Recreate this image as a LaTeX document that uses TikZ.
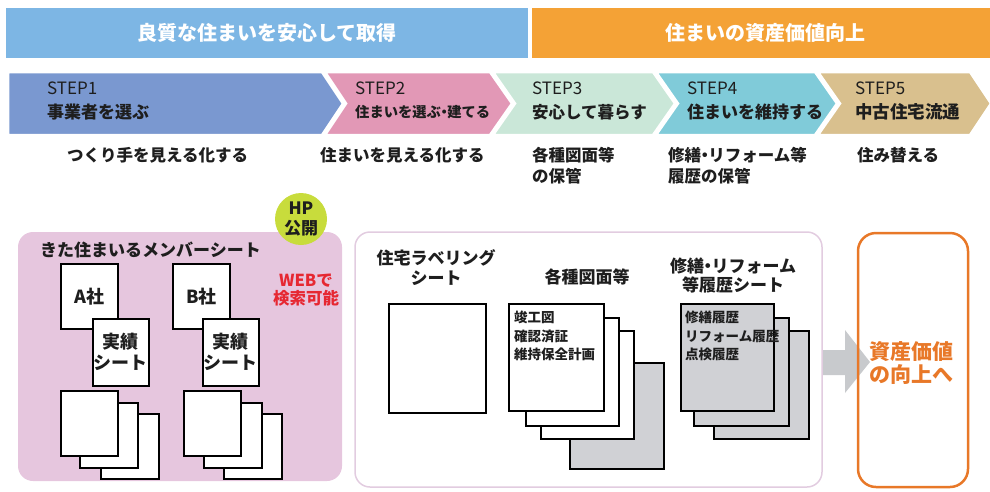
\documentclass[tikz,border=0pt]{standalone}
\usepackage{fontspec}
\setmainfont{Noto Sans CJK JP}
\definecolor{barblue}{RGB}{125,182,228}
\definecolor{barorange}{RGB}{244,162,54}
\definecolor{sA}{RGB}{122,152,208}
\definecolor{sB}{RGB}{226,152,182}
\definecolor{sC}{RGB}{202,231,216}
\definecolor{sD}{RGB}{128,203,217}
\definecolor{sE}{RGB}{217,192,142}
\definecolor{lpink}{RGB}{230,198,222}
\definecolor{mborder}{RGB}{226,204,224}
\definecolor{sgrey}{RGB}{208,209,213}
\definecolor{hpgreen}{RGB}{200,220,60}
\definecolor{webred}{RGB}{230,40,50}
\definecolor{assetorange}{RGB}{232,120,40}
\definecolor{arrowgrey}{RGB}{200,202,205}
\definecolor{ink}{RGB}{30,30,30}
\newcommand{\ndot}{\kern-0.28em・\kern-0.28em}
\tikzset{
  chev/.style={line width=2.5pt, draw=white, line join=miter},
  steplbl/.style={anchor=west, inner sep=0pt, text=ink, font=\fontsize{17}{20}\selectfont},
  stepjp/.style={anchor=west, inner sep=0pt, text=ink, font=\fontsize{#1}{20}\selectfont\bfseries},
  sub/.style={anchor=west, inner sep=0pt, align=left, text=ink, font=\fontsize{16.5}{21}\selectfont\bfseries},
  sheet/.style={draw=black, line width=1.6pt, fill=white, anchor=north west, inner sep=0pt},
  gsheet/.style={sheet, fill=sgrey},
  ttl/.style={inner sep=0pt, align=center, text=ink, font=\fontsize{17}{20}\selectfont\bfseries},
  doctxt/.style={anchor=north west, inner sep=0pt, align=left, text=ink, font=\fontsize{13.5}{18.5}\selectfont\bfseries},
}
\begin{document}
\begin{tikzpicture}[x=1pt,y=-1pt]
\useasboundingbox (0,0) rectangle (990,491);
% top bars
\fill[barblue] (6,8) rectangle (528,58);
\fill[barorange] (532,8) rectangle (990,58);
\node[text=white, font=\fontsize{20}{24}\selectfont\bfseries] (t1) at (267,33) {良質な住まいを安心して取得};
\node[text=white, font=\fontsize{20}{24}\selectfont\bfseries] (t2) at (765,33) {住まいの資産価値向上};
% chevrons
\filldraw[chev, fill=sA] (8,72) -- (322,72) -- (343,103.5) -- (322,135) -- (8,135) -- cycle;
\filldraw[chev, fill=sB] (325,72) -- (490,72) -- (512,103.5) -- (490,135) -- (325,135) -- (346,103.5) -- cycle;
\filldraw[chev, fill=sC] (493,72) -- (653,72) -- (675,103.5) -- (653,135) -- (493,135) -- (515,103.5) -- cycle;
\filldraw[chev, fill=sD] (656,72) -- (815,72) -- (837,103.5) -- (815,135) -- (656,135) -- (678,103.5) -- cycle;
\filldraw[chev, fill=sE] (818,72) -- (970,72) -- (991,103.5) -- (970,135) -- (818,135) -- (840,103.5) -- cycle;
\node[steplbl] (s1) at (47,88) {STEP1};
\node[stepjp=17] (s1j) at (47,112) {事業者を選ぶ};
\node[steplbl] (s2) at (355,88) {STEP2};
\node[stepjp=14.3] (s2j) at (355,112) {住まいを選ぶ\ndot 建てる};
\node[steplbl] (s3) at (532,88) {STEP3};
\node[stepjp=16.5] (s3j) at (532,112) {安心して暮らす};
\node[steplbl] (s4) at (687,88) {STEP4};
\node[stepjp=17] (s4j) at (687,112) {住まいを維持する};
\node[steplbl] (s5) at (855,88) {STEP5};
\node[stepjp=17.5] (s5j) at (855,112) {中古住宅流通};
% subtitles
\node[sub] (u1) at (67,155) {つくり手を見える化する};
\node[sub] (u2) at (320,155) {住まいを見える化する};
\node[sub] (u3) at (532,165.5) {各種図面等\\の保管};
\node[sub] (u4) at (668,165.5) {修繕\ndot リフォーム等\\履歴の保管};
\node[sub] (u5) at (857,155) {住み替える};
% left box
\fill[lpink, rounded corners=15pt] (18,232) rectangle (342,481);
\node[anchor=west, inner sep=0pt, text=ink, font=\fontsize{17}{20}\selectfont\bfseries] (kt) at (40,250) {きた住まいるメンバーシート};
\node[circle, fill=hpgreen, minimum size=52pt, inner sep=0pt, align=center, text=ink, font=\fontsize{17}{20}\selectfont\bfseries] (hp) at (301,219) {HP\\公開};
\node[inner sep=0pt, align=center, text=webred, font=\fontsize{16.5}{17.5}\selectfont\bfseries] (web) at (306,290) {WEBで\\検索可能};
% company A
\node[sheet, minimum width=57pt, minimum height=65pt, font=\fontsize{18}{21}\selectfont\bfseries, text=ink] (ca) at (60,263) {A社};
\node[sheet, minimum width=56pt, minimum height=67pt, align=center, font=\fontsize{18}{21}\selectfont\bfseries, text=ink] (ja) at (92,318) {実績\\シート};
\node[sheet, minimum width=58pt, minimum height=65pt] (a3) at (100,413) {};
\node[sheet, minimum width=58pt, minimum height=65pt] (a2) at (79,402) {};
\node[sheet, minimum width=57pt, minimum height=65pt] (a1) at (60,390) {};
% company B
\node[sheet, minimum width=57pt, minimum height=65pt, font=\fontsize{18}{21}\selectfont\bfseries, text=ink] (cb) at (172,263) {B社};
\node[sheet, minimum width=56pt, minimum height=67pt, align=center, font=\fontsize{18}{21}\selectfont\bfseries, text=ink] (jb) at (202,318) {実績\\シート};
\node[sheet, minimum width=58pt, minimum height=65pt] (b3) at (223,413) {};
\node[sheet, minimum width=58pt, minimum height=65pt] (b2) at (203,402) {};
\node[sheet, minimum width=57pt, minimum height=65pt] (b1) at (183,390) {};
% middle box
\filldraw[draw=mborder, fill=white, line width=1.5pt, rounded corners=15pt] (355,232) rectangle (822,487);
\node[ttl] (lbt) at (436,268) {住宅ラベリング\\シート};
\node[sheet, minimum width=97pt, minimum height=109pt] (lb) at (388,303) {};
\node[ttl] (zt) at (587,277) {各種図面等};
\node[gsheet, minimum width=94pt, minimum height=106pt] (z4) at (569,362) {};
\node[sheet, minimum width=93pt, minimum height=108pt] (z3) at (540,330) {};
\node[sheet, minimum width=93pt, minimum height=108pt] (z2) at (525,317) {};
\node[sheet, minimum width=95pt, minimum height=107pt] (z1) at (508,303) {};
\node[doctxt] (zx) at (514,311) {竣工図\\確認済証\\維持保全計画};
\node[ttl, font=\fontsize{17}{19}\selectfont\bfseries] (rt) at (733,276) {修繕\ndot リフォーム\\等履歴シート};
\node[gsheet, minimum width=95pt, minimum height=108pt] (r3) at (713,330) {};
\node[gsheet, minimum width=95pt, minimum height=108pt] (r2) at (693,317) {};
\node[gsheet, minimum width=93pt, minimum height=107pt] (r1) at (680,303) {};
\node[doctxt] (rx) at (685,311) {修繕履歴\\リフォーム履歴\\点検履歴};
% arrow
\fill[arrowgrey] (823,350) -- (845,350) -- (845,330) -- (870,362) -- (845,393) -- (845,375) -- (823,375) -- cycle;
% asset box
\draw[assetorange, line width=2.5pt, rounded corners=18pt] (858,233) rectangle (968,487);
\node[inner sep=0pt, align=center, text=assetorange, font=\fontsize{21}{23}\selectfont\bfseries] (as) at (911,363) {資産価値\\の向上へ};
\end{tikzpicture}
\end{document}
